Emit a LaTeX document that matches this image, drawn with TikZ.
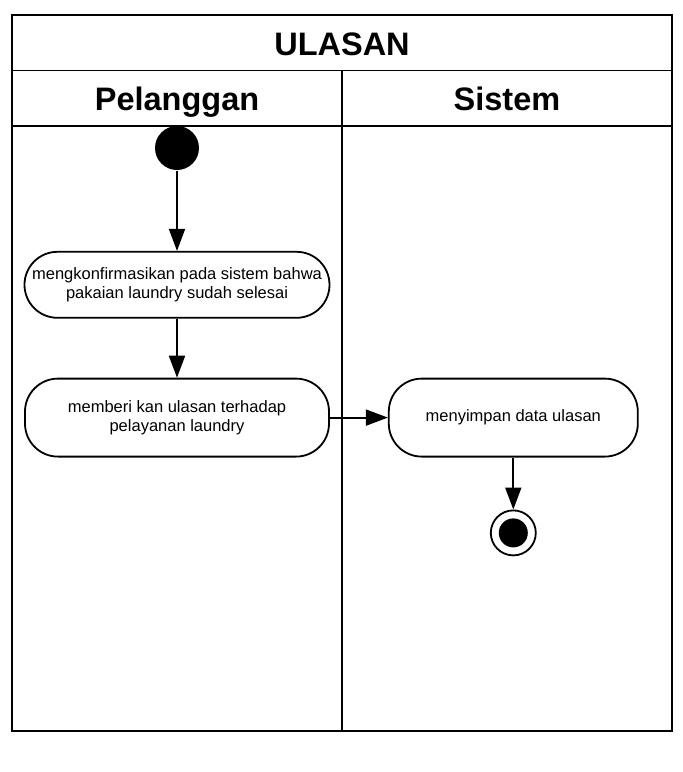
\documentclass[tikz,border=0pt]{standalone}
\usepackage{fontspec}
\setmainfont{Liberation Sans}
\usetikzlibrary{arrows.meta, positioning}

\begin{document}
\begin{tikzpicture}[x=1pt, y=-1pt, >={Triangle[length=22pt,width=16pt]},
  line width=1.8pt,
  act/.style={draw, rounded corners=33pt, align=center, inner sep=2pt,
              font=\fontsize{16.5}{18.5}\selectfont},
  head/.style={anchor=base, font=\fontsize{32.5}{36}\selectfont\bfseries}]

\useasboundingbox (0,0) rectangle (683,772);

% -----------------------------------------------------
%  Swimlane frame
% -----------------------------------------------------
\draw (12,15) rectangle (672,731);
\draw (12,70.5) -- (672,70.5);
\draw (12,126) -- (672,126);
\draw (342,70.5) -- (342,731);

\node[head] (title) at (342,55) {ULASAN};
\node[head] (laneP) at (177,110) {Pelanggan};
\node[head] (laneS) at (507,110) {Sistem};

% -----------------------------------------------------
%  Pelanggan
% -----------------------------------------------------
\node[circle, fill=black, inner sep=0pt, minimum size=44pt] (start) at (177,148) {};

\node[act, minimum width=305pt, minimum height=66pt,
      below=80pt of start] (konfirmasi)
      {mengkonfirmasikan pada sistem bahwa\\ pakaian laundry sudah selesai};

\node[act, minimum width=304pt, minimum height=78pt,
      below=59pt of konfirmasi] (ulasan)
      {memberi kan ulasan terhadap\\ pelayanan laundry};

\draw[->] (start) -- (konfirmasi);
\draw[->] (konfirmasi) -- (ulasan);

% -----------------------------------------------------
%  Sistem
% -----------------------------------------------------
\node[act, minimum width=249pt, minimum height=78pt,
      right=58pt of ulasan] (simpan) {menyimpan data ulasan};

\draw[->] (ulasan) -- (simpan);

% End state
\node[circle, draw, fill=white, inner sep=0pt, minimum size=45pt,
      below=52pt of simpan] (end) {};
\node[circle, fill=black, inner sep=0pt, minimum size=29pt] (endDot) at (end) {};

\draw[->] (simpan) -- (end);

\end{tikzpicture}
\end{document}
